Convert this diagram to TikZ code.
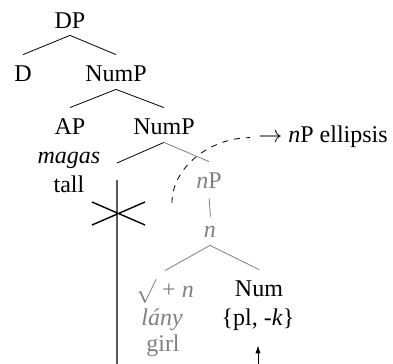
\documentclass[tikz,border=0pt]{standalone}
\usepackage{fontspec}
\setmainfont{Liberation Serif}
\usetikzlibrary{arrows.meta}

\begin{document}
\begin{tikzpicture}[x=0.5pt,y=-0.5pt,font=\fontsize{12}{14}\selectfont,
  lbl/.style={inner sep=0pt,anchor=base,text height=13.5pt,text depth=3.5pt},
  gr/.style={black!50}]
  \useasboundingbox (0,0) rectangle (393,364);
  \node[lbl] (dp) at (70,28) {DP};
  \node[lbl] (d) at (23,82) {D};
  \node[lbl] (nump) at (116,82) {NumP};
  \node[lbl] (ap) at (70,135) {AP};
  \node[lbl] (numpb) at (164,135) {NumP};
  \node[lbl] (magas) at (69,164) {\textit{magas}};
  \node[lbl] (tall) at (69,193) {tall};
  \node[lbl,gr] (np) at (209,189) {\textit{n}P};
  \node[lbl,gr] (n) at (210,238) {\textit{n}};
  \node[lbl,gr] (root) at (165,298) {$\surd$ + \textit{n}};
  \node[lbl,gr] (lany) at (162,326) {\textit{lány}};
  \node[lbl,gr] (girl) at (163,352) {girl};
  \node[lbl] (num) at (259,297) {Num};
  \node[lbl] (feat) at (258,326) {\{pl, -\textit{k}\}};
  \node[lbl,anchor=base west,text height=8pt,text depth=2.5pt] (ell) at (258,143) {$\rightarrow$ \textit{n}P ellipsis};
  \coordinate (tr) at (117,163);
  \coordinate (trtop) at (117,180);
  \coordinate (trbot) at (117,364);
  \coordinate (abot) at (258,364);
  \coordinate (dstart) at (172,203);
  \draw (dp.south) -- (d.north);
  \draw (dp.south) -- (nump.north);
  \draw (nump.south) -- (ap.north);
  \draw (nump.south) -- (numpb.north);
  \draw (numpb.south) -- (tr);
  \draw[gr] (numpb.south) -- (np.north);
  \draw[gr,shorten <=1pt,shorten >=-3pt] (np.south) -- (n.north);
  \draw[gr] (n.south) -- (root.north);
  \draw[gr] (n.south) -- (num.north);
  \draw[black!65,line width=0.7pt] (trtop) -- (trbot);
  \draw[line width=0.7pt] (92,202) -- (145,225) (92,225) -- (145,202);
  \draw[-{Latex[length=4pt,width=2.6pt]},shorten >=6pt] (abot) -- (feat.south);
  \draw[dashed,shorten >=4pt] (dstart) .. controls (172,167) and (210,138) .. (ell.west);
\end{tikzpicture}
\end{document}
